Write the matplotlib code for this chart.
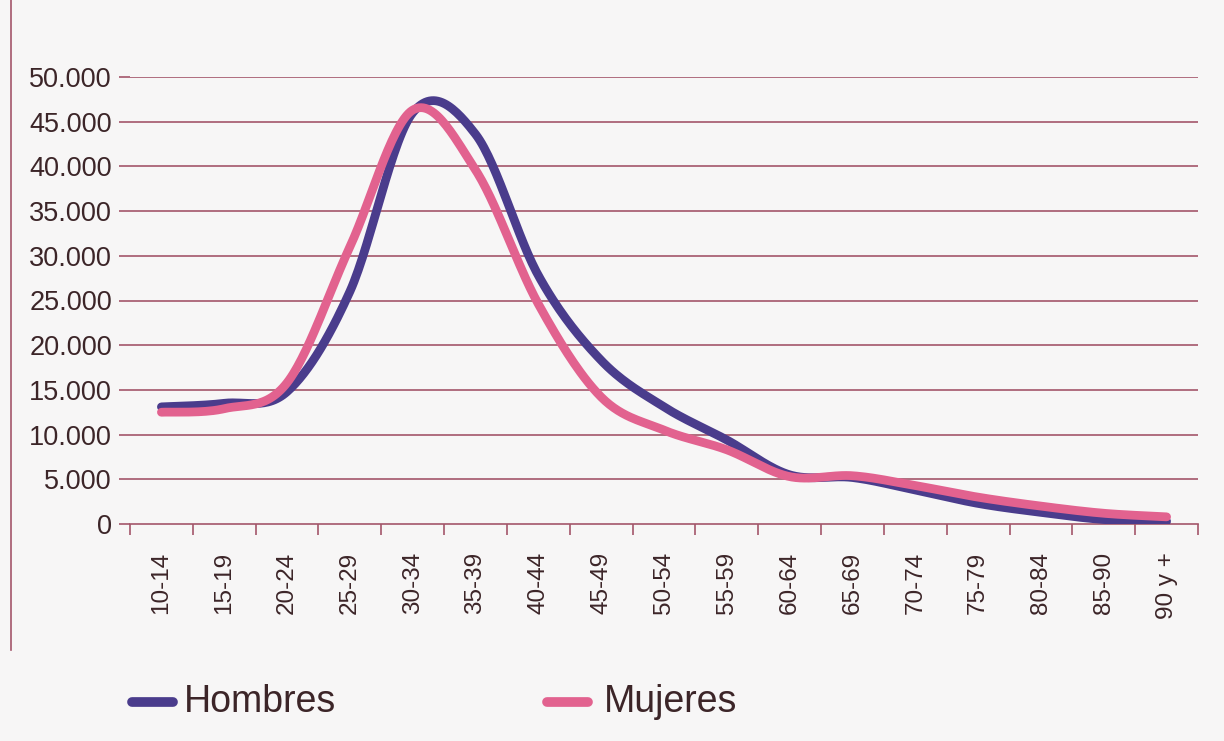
import numpy as np
import matplotlib
matplotlib.use("Agg")
import matplotlib.pyplot as plt
from matplotlib.lines import Line2D

# ---- data ----
categories = ["10-14", "15-19", "20-24", "25-29", "30-34", "35-39", "40-44",
              "45-49", "50-54", "55-59", "60-64", "65-69", "70-74", "75-79",
              "80-84", "85-90", "90 y +"]
hombres = [13100, 13500, 14800, 26000, 46000, 43600, 27800, 18300, 13100,
           9400, 5500, 5200, 3800, 2300, 1300, 500, 300]
mujeres = [12500, 12900, 15800, 31000, 46300, 39600, 24600, 14200, 10500,
           8300, 5300, 5400, 4300, 3000, 2000, 1200, 800]
yticks = [0, 5000, 10000, 15000, 20000, 25000, 30000, 35000, 40000, 45000, 50000]
ytick_labels = ["0", "5.000", "10.000", "15.000", "20.000", "25.000", "30.000",
                "35.000", "40.000", "45.000", "50.000"]
series_names = ["Hombres", "Mujeres"]

C_H = "#4a3c8c"
C_M = "#e2628f"
GRID = "#a3566a"
TXT = "#3c2528"
BG = "#f7f6f6"

plt.rcParams['font.family'] = ['Liberation Sans', 'DejaVu Sans']


def smooth(y, n=30):
    """Catmull-Rom smoothing (like Excel smoothed lines)."""
    y = np.asarray(y, float)
    x = np.arange(len(y), dtype=float)
    P = np.column_stack([x, y])
    P = np.vstack([P[0], P, P[-1]])
    out = []
    t = np.linspace(0, 1, n, endpoint=False)[:, None]
    for i in range(1, len(P) - 2):
        p0, p1, p2, p3 = P[i - 1], P[i], P[i + 1], P[i + 2]
        b0 = p1
        b1 = p1 + (p2 - p0) / 6
        b2 = p2 - (p3 - p1) / 6
        b3 = p2
        seg = ((1 - t) ** 3) * b0 + 3 * ((1 - t) ** 2) * t * b1 + 3 * (1 - t) * t ** 2 * b2 + t ** 3 * b3
        out.append(seg)
    out.append(P[-2][None, :])
    out = np.vstack(out)
    return out[:, 0], out[:, 1]


fig = plt.figure(figsize=(12.24, 7.41), dpi=100, facecolor=BG)
ax = fig.add_axes([130 / 1224, 1 - 524 / 741, (1198 - 130) / 1224, (524 - 77) / 741])
ax.set_facecolor(BG)

n = len(categories)
ax.set_xlim(-0.5, n - 0.5)
ax.set_ylim(0, 50000)

for v in yticks[1:]:
    ax.axhline(v, color=GRID, lw=1.2, zorder=1)

for vals, col in [(hombres, C_H), (mujeres, C_M)]:
    xs, ys = smooth(vals)
    ax.plot(xs, ys, color=col, lw=6.3, solid_capstyle='round', zorder=3)

for s in ['top', 'right', 'left']:
    ax.spines[s].set_visible(False)
ax.spines['bottom'].set_color(GRID)
ax.spines['bottom'].set_linewidth(1.2)

ax.set_yticks(yticks)
ax.set_yticklabels(ytick_labels)
ax.tick_params(axis='y', length=8, width=1.2, color=GRID, pad=5,
               labelsize=19.5, labelcolor=TXT)

ax.set_xticks(np.arange(-0.5, n, 1.0))
ax.set_xticklabels([])
ax.set_xticks(np.arange(n), minor=True)
ax.set_xticklabels(categories, minor=True, rotation=90, fontsize=17.5, color=TXT)
ax.tick_params(axis='x', which='major', length=8, width=1.2, color=GRID)
ax.tick_params(axis='x', which='minor', length=0, pad=20)

# frame line on left
fig.add_artist(Line2D([11 / 1224, 11 / 1224], [1 - 650 / 741, 1.0], color=GRID, lw=1.2))

# legend
ly = 1 - 702 / 741
fig.add_artist(Line2D([132 / 1224, 173 / 1224], [ly, ly], color=C_H, lw=7, solid_capstyle='round'))
fig.text(184 / 1224, ly, series_names[0], fontsize=27, color=TXT, va='center', ha='left')
fig.add_artist(Line2D([547 / 1224, 588 / 1224], [ly, ly], color=C_M, lw=7, solid_capstyle='round'))
fig.text(604 / 1224, ly, series_names[1], fontsize=27, color=TXT, va='center', ha='left')

fig.savefig("out.png", dpi=100, facecolor=BG)
